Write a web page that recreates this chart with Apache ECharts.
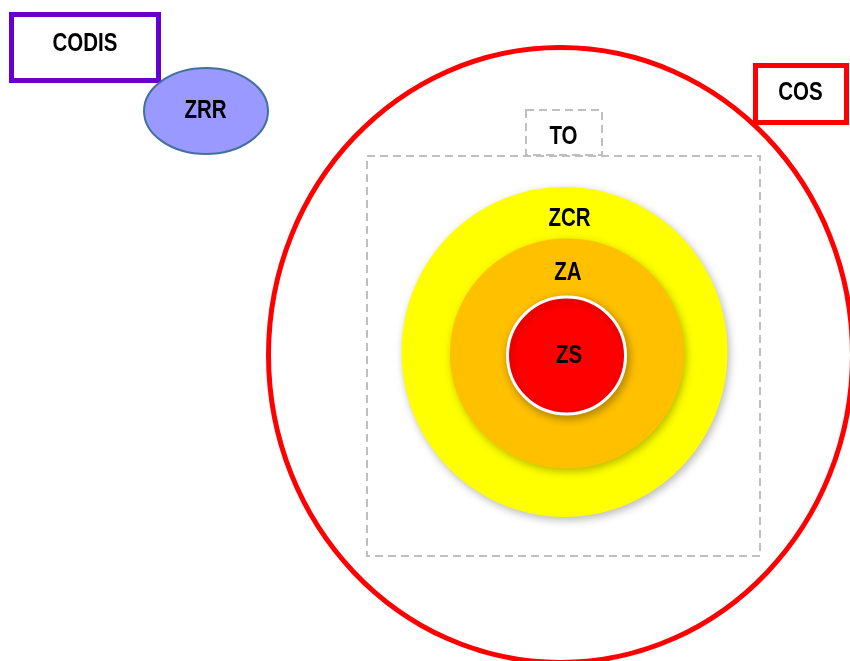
<!DOCTYPE html>
<html><head><meta charset="utf-8">
<script src="https://cdn.jsdelivr.net/npm/echarts@6/dist/echarts.min.js"></script>
<style>html,body{margin:0;padding:0;background:#fff}#c{width:850px;height:661px}</style>
</head><body><div id="c"></div>
<script>
// Oval zones (value space = page units, y downward)
const ovalNames = ['COS ring', 'ZCR', 'ZA', 'ZS', 'ZRR'];
const ovalCx = [560.5, 564.5, 567, 566.5, 206];
const ovalCy = [355, 352, 353.5, 355.5, 111];
const ovalRx = [292, 163, 117, 59, 62];
const ovalRy = [307.5, 165, 115, 58.5, 43];

// Rectangular boxes
const boxNames = ['TO area', 'TO', 'CODIS', 'COS'];
const boxX0 = [367, 526, 11.5, 755.5];
const boxY0 = [156, 110, 14.5, 65.5];
const boxX1 = [760, 602, 158.5, 846.5];
const boxY1 = [556, 155, 80.5, 122.5];

// Text labels
const labelTexts = ['CODIS', 'ZRR', 'COS', 'TO', 'ZCR', 'ZA', 'ZS'];
const labelX = [85, 205.5, 800.5, 563.5, 569.5, 568, 569];
const labelY = [44.5, 111, 93.5, 137, 219.5, 273, 356];

// Draw order
const drawOrder = [
  ['oval', 'COS ring'], ['box', 'TO area'], ['box', 'TO'],
  ['oval', 'ZCR'], ['oval', 'ZA'], ['oval', 'ZS'],
  ['box', 'CODIS'], ['oval', 'ZRR'], ['box', 'COS']
];

const styles = {
  'COS ring': { fill: 'none', stroke: '#FF0000', lineWidth: 5 },
  'ZCR': { fill: '#FFFF00', stroke: null, shadowBlur: 8, shadowOffsetX: 2, shadowOffsetY: 3, shadowColor: 'rgba(0,0,0,0.28)' },
  'ZA': { fill: '#FFC000', stroke: null, shadowBlur: 8, shadowOffsetX: 2, shadowOffsetY: 3, shadowColor: 'rgba(0,0,0,0.28)' },
  'ZS': { fill: '#FF0000', stroke: '#FFFFFF', lineWidth: 3, shadowBlur: 8, shadowOffsetX: 2, shadowOffsetY: 3, shadowColor: 'rgba(0,0,0,0.3)' },
  'ZRR': { fill: '#9999FF', stroke: '#41719C', lineWidth: 2 },
  'TO area': { fill: 'none', stroke: '#BFBFBF', lineWidth: 2, lineDash: [8, 5] },
  'TO': { fill: '#FFFFFF', stroke: '#BFBFBF', lineWidth: 2, lineDash: [8, 5] },
  'CODIS': { fill: '#FFFFFF', stroke: '#6600CC', lineWidth: 5 },
  'COS': { fill: '#FFFFFF', stroke: '#FF0000', lineWidth: 5 }
};

const shapeData = drawOrder.map(function (d) {
  if (d[0] === 'oval') {
    const i = ovalNames.indexOf(d[1]);
    return { name: d[1], value: [ovalCx[i], ovalCy[i], ovalRx[i] * 2, ovalRy[i] * 2, 0] };
  } else {
    const i = boxNames.indexOf(d[1]);
    return { name: d[1], value: [boxX0[i], boxY0[i], boxX1[i], boxY1[i], 1] };
  }
});

const labelData = labelTexts.map(function (t, i) {
  return { name: t, value: [labelX[i], labelY[i]] };
});

const font = "'Liberation Sans Narrow', 'Arial Narrow', 'Liberation Sans', Arial, sans-serif";

const chart = echarts.init(document.getElementById('c'), null, { renderer: 'canvas' });
chart.setOption({
  backgroundColor: '#FFFFFF',
  animation: false,
  grid: { left: 0, right: 0, top: 0, bottom: 0 },
  xAxis: { type: 'value', min: 0, max: 850, show: false },
  yAxis: { type: 'value', min: 0, max: 661, inverse: true, show: false },
  series: [
    {
      type: 'custom',
      clip: false,
      z: 2,
      silent: true,
      data: shapeData,
      encode: { x: 0, y: 1 },
      renderItem: function (params, api) {
        const item = shapeData[params.dataIndex];
        const v = item.value;
        const st = styles[item.name];
        if (v[4] === 0) {
          const c = api.coord([v[0], v[1]]);
          const s = api.size([v[2], v[3]], [v[0], v[1]]);
          return { type: 'ellipse', shape: { cx: c[0], cy: c[1], rx: s[0] / 2, ry: s[1] / 2 }, style: st };
        } else {
          const p0 = api.coord([v[0], v[1]]);
          const p1 = api.coord([v[2], v[3]]);
          return {
            type: 'rect',
            shape: { x: Math.min(p0[0], p1[0]), y: Math.min(p0[1], p1[1]), width: Math.abs(p1[0] - p0[0]), height: Math.abs(p1[1] - p0[1]) },
            style: st
          };
        }
      }
    },
    {
      type: 'custom',
      clip: false,
      z: 5,
      silent: true,
      data: labelData,
      encode: { x: 0, y: 1 },
      renderItem: function (params, api) {
        const item = labelData[params.dataIndex];
        const c = api.coord(item.value);
        return {
          type: 'text',
          x: c[0],
          y: c[1],
          scaleX: 0.82,
          style: {
            text: item.name,
            fill: '#000000',
            fontFamily: font,
            fontWeight: 'bold',
            fontSize: 25,
            align: 'center',
            verticalAlign: 'middle'
          }
        };
      }
    }
  ]
});
</script>
</body></html>
